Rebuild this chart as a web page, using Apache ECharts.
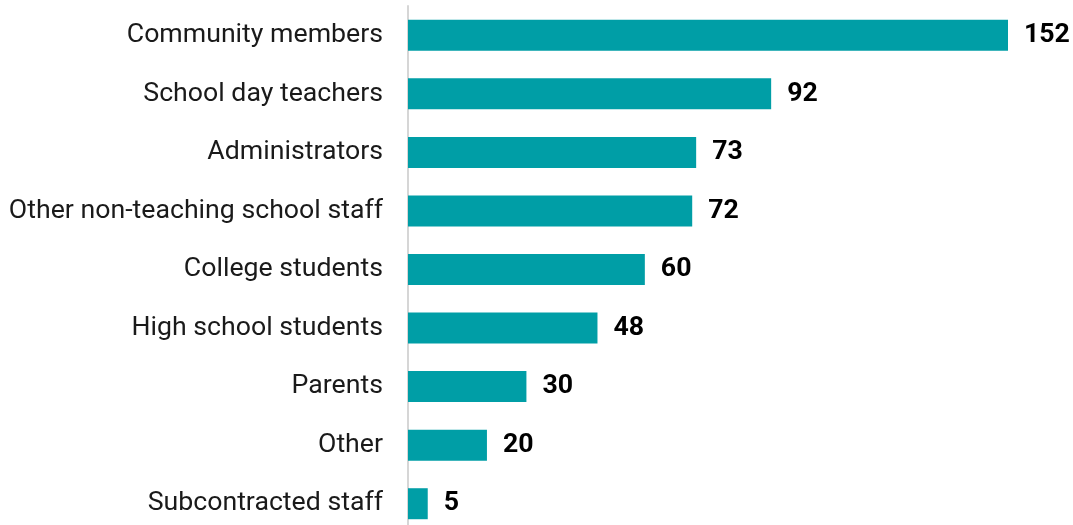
<!DOCTYPE html>
<html>
<head>
<meta charset="utf-8">
<style>
  html, body { margin: 0; padding: 0; background: #ffffff; overflow: hidden; }
  /* the plot runs a few pixels past the bottom of the window */
  #chart { width: 1073px; height: 533px; }
</style>
<script src="https://cdn.jsdelivr.net/npm/echarts@6/dist/echarts.min.js"></script>
</head>
<body>
<div id="chart"></div>
<script>
// Who staffs the programs: number of staff by type
const categories = [
  'Community members',
  'School day teachers',
  'Administrators',
  'Other non-teaching school staff',
  'College students',
  'High school students',
  'Parents',
  'Other',
  'Subcontracted staff'
];
const counts = [152, 92, 73, 72, 60, 48, 30, 20, 5];

const chart = echarts.init(document.getElementById('chart'), null, { renderer: 'canvas' });

chart.setOption({
  animation: false,
  grid: { left: 408, right: 65, top: 6, bottom: 0, containLabel: false },
  xAxis: {
    type: 'value',
    min: 0,
    max: 152,
    show: false
  },
  yAxis: {
    type: 'category',
    data: categories,
    inverse: true,
    axisLine: { show: true, lineStyle: { color: '#d6d6d6', width: 2 } },
    axisTick: { show: false },
    axisLabel: {
      margin: 25,
      fontFamily: 'Roboto',
      fontSize: 26.7,
      color: '#1a1a1a'
    }
  },
  series: [{
    type: 'bar',
    data: counts,
    barWidth: 31,
    itemStyle: { color: '#009ea6' },
    label: {
      show: true,
      position: 'right',
      distance: 16,
      fontFamily: 'Roboto',
      fontWeight: 'bold',
      fontSize: 26.7,
      color: '#000000'
    }
  }]
});
</script>
</body>
</html>
